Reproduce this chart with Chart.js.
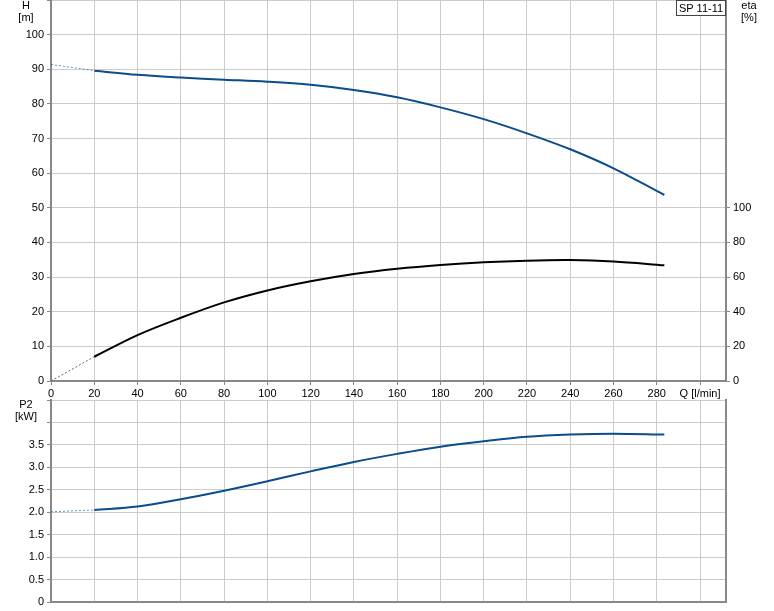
<!DOCTYPE html>
<html>
<head>
<meta charset="utf-8">
<script src="https://cdn.jsdelivr.net/npm/chart.js@4/dist/chart.umd.min.js"></script>
<style>
  body { margin: 0; background: #fff; }
  #wrap { position: relative; width: 774px; height: 611px; }
  canvas { position: absolute; left: 0; }
  #top { top: 0; }
  #bottom { top: 390px; }
</style>
</head>
<body>
<div id="wrap">
  <canvas id="top" width="774" height="400"></canvas>
  <canvas id="bottom" width="774" height="221"></canvas>
</div>
<script>
// pump curve
const flow  = [20, 40, 60, 80, 100, 120, 140, 160, 180, 200, 220, 240, 260, 283.5];
const head  = [89.6, 88.4, 87.6, 87.0, 86.4, 85.5, 84.0, 81.9, 79.0, 75.6, 71.5, 66.9, 61.4, 53.7];
const eta   = [14.0, 26.5, 36.5, 45.4, 52.3, 57.6, 61.8, 64.8, 67.0, 68.6, 69.5, 69.8, 69.0, 66.8];
const power = [2.05, 2.13, 2.29, 2.48, 2.69, 2.91, 3.12, 3.30, 3.46, 3.58, 3.68, 3.73, 3.75, 3.73];

// dotted part below minimum flow
const flowDot  = [0, 20];
const headDot  = [91.4, 89.6];
const etaDot   = [0, 14.0];
const powerDot = [2.01, 2.05];

// tick labels
const qTicks   = [0, 20, 40, 60, 80, 100, 120, 140, 160, 180, 200, 220, 240, 260, 280, 300];
const hTicks   = [0, 10, 20, 30, 40, 50, 60, 70, 80, 90, 100, 110];
const etaTicks = [0, 20, 40, 60, 80, 100];
const p2Ticks  = [0, 0.5, 1.0, 1.5, 2.0, 2.5, 3.0, 3.5, 4.0, 4.5];

const pumpName = 'SP 11-11';

const blue = '#0b4c8c';
const gridColor = '#cccccc';
const axisColor = '#888888';
const font = 'Arial, "Liberation Sans", sans-serif';

Chart.defaults.font.family = font;
Chart.defaults.font.size = 11;
Chart.defaults.color = '#000';
Chart.defaults.animation = false;

function pts(xs, ys) {
  return xs.map((x, i) => ({ x: x, y: ys[i] }));
}
function useTicks(list) {
  return s => { s.ticks = list.map(v => ({ value: v })); };
}
// fixed axis size, and no extra room for half labels
function fixSize(w, h) {
  return s => {
    if (w !== null) s.width = w;
    if (h !== null) s.height = h;
    s.paddingTop = 0; s.paddingBottom = 0;
    s.paddingLeft = 0; s.paddingRight = 0;
  };
}

const textPlugin = {
  id: 'extraText',
  afterDraw(chart, args, opts) {
    const ctx = chart.ctx;
    ctx.save();
    ctx.font = '11px ' + font;
    ctx.fillStyle = '#000';
    ctx.textAlign = 'center';
    ctx.textBaseline = 'middle';
    (opts.items || []).forEach(t => ctx.fillText(t.text, t.x, t.y));
    if (opts.box) {
      const b = opts.box;
      ctx.fillStyle = '#fff';
      ctx.fillRect(b.x, b.y, b.w, b.h);
      ctx.strokeStyle = '#444';
      ctx.lineWidth = 1;
      ctx.strokeRect(b.x + 0.5, b.y + 0.5, b.w, b.h);
      ctx.fillStyle = '#000';
      ctx.fillText(b.text, b.x + b.w / 2 + 0.5, b.y + b.h / 2 + 1);
    }
    ctx.restore();
  }
};

function xScale(showLabels, height) {
  return {
    type: 'linear',
    min: 0,
    max: 312,
    afterBuildTicks: useTicks(qTicks),
    afterFit: fixSize(null, height),
    ticks: {
      display: showLabels,
      padding: 2,
      maxRotation: 0,
      autoSkip: false,
      callback: v => v === 300 ? 'Q [l/min]' : v
    },
    grid: { color: gridColor, tickColor: axisColor, tickLength: 4, drawTicks: showLabels },
    border: { color: axisColor, width: 2 }
  };
}

const curve = { borderWidth: 2, pointRadius: 0, tension: 0.35 };
const dots = { borderWidth: 1, borderDash: [2, 2], pointRadius: 0, tension: 0 };

new Chart(document.getElementById('top'), {
  type: 'line',
  data: {
    datasets: [
      Object.assign({ data: pts(flow, head), yAxisID: 'y', borderColor: blue }, curve),
      Object.assign({ data: pts(flowDot, headDot), yAxisID: 'y', borderColor: 'rgba(11,76,140,0.6)' }, dots),
      Object.assign({ data: pts(flow, eta), yAxisID: 'y2', borderColor: '#000' }, curve),
      Object.assign({ data: pts(flowDot, etaDot), yAxisID: 'y2', borderColor: '#666' }, dots)
    ]
  },
  options: {
    responsive: false,
    layout: { autoPadding: false, padding: 0 },
    plugins: {
      legend: { display: false },
      tooltip: { enabled: false },
      extraText: {
        items: [
          { text: 'H', x: 26, y: 6 },
          { text: '[m]', x: 26, y: 18 },
          { text: 'eta', x: 749, y: 6 },
          { text: '[%]', x: 749, y: 18 }
        ],
        box: { x: 676, y: 0, w: 49, h: 15, text: pumpName }
      }
    },
    scales: {
      x: xScale(true, 19),
      y: {
        position: 'left',
        min: 0,
        max: 110,
        afterBuildTicks: useTicks(hTicks),
        afterFit: fixSize(51, null),
        ticks: { padding: 3, callback: v => v > 100 ? '' : v },
        grid: { color: gridColor, tickColor: axisColor, tickLength: 4 },
        border: { color: axisColor, width: 2 }
      },
      y2: {
        position: 'right',
        min: 0,
        max: 220,
        afterBuildTicks: useTicks(etaTicks),
        afterFit: fixSize(48, null),
        ticks: { padding: 3 },
        grid: { drawOnChartArea: false, tickColor: axisColor, tickLength: 4 },
        border: { color: axisColor, width: 2 }
      }
    }
  },
  plugins: [textPlugin]
});

new Chart(document.getElementById('bottom'), {
  type: 'line',
  data: {
    datasets: [
      Object.assign({ data: pts(flow, power), yAxisID: 'y', borderColor: blue }, curve),
      Object.assign({ data: pts(flowDot, powerDot), yAxisID: 'y', borderColor: 'rgba(11,76,140,0.6)' }, dots)
    ]
  },
  options: {
    responsive: false,
    layout: { autoPadding: false, padding: { top: 10, left: 0, right: 0, bottom: 0 } },
    plugins: {
      legend: { display: false },
      tooltip: { enabled: false },
      extraText: {
        items: [
          { text: 'P2', x: 26, y: 15 },
          { text: '[kW]', x: 26, y: 27 }
        ]
      }
    },
    scales: {
      x: xScale(false, 9),
      y: {
        position: 'left',
        min: 0,
        max: 4.5,
        afterBuildTicks: useTicks(p2Ticks),
        afterFit: fixSize(51, null),
        ticks: { padding: 3, callback: v => v > 3.5 ? '' : (v === 0 ? '0' : v.toFixed(1)) },
        grid: { color: gridColor, tickColor: axisColor, tickLength: 4 },
        border: { color: axisColor, width: 2 }
      },
      yR: {
        position: 'right',
        display: true,
        min: 0,
        max: 1,
        afterFit: fixSize(48, null),
        ticks: { display: false },
        grid: { drawOnChartArea: false, drawTicks: false },
        border: { color: axisColor, width: 2 }
      }
    }
  },
  plugins: [textPlugin]
});
</script>
</body>
</html>
